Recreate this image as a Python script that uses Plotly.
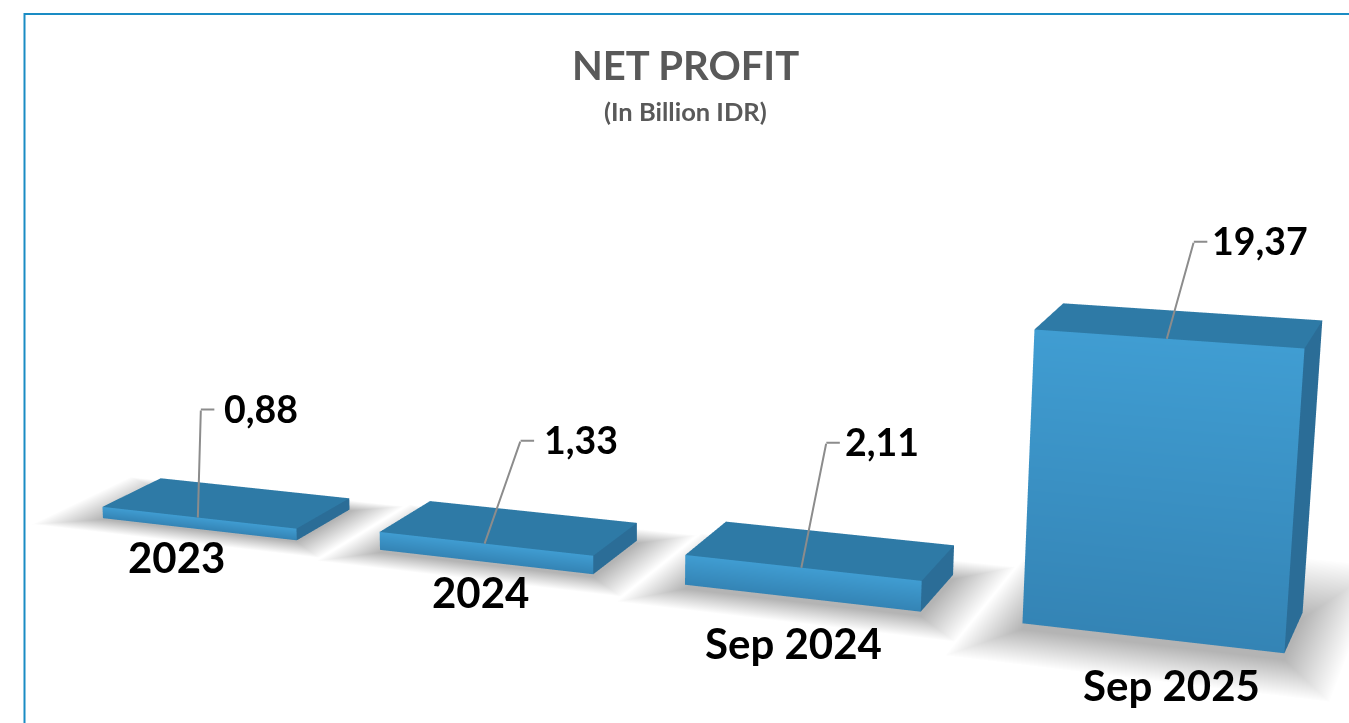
import plotly.graph_objects as go

categories = ["2023", "2024", "Sep 2024", "Sep 2025"]
values = [0.88, 1.33, 2.11, 19.37]
value_labels = ["0,88", "1,33", "2,11", "19,37"]

title_text = "NET PROFIT"
subtitle_text = "(In Billion IDR)"

W = 1349
H = 723
FONT = "Lato"
FRONT_TOP = "#409dd2"
FRONT_BOTTOM = "#3484b5"
TOP_FACE = "#2e7aa6"
SIDE_FACE = "#2b6d97"

# oblique frame of the chart inside the scene, read off the vanishing points
# of the reference (camera space: right, down, forward)
DIR_X = (0.988, 0.0784, -0.136)
DIR_Y = (0.69, -0.43, 0.585)
DIR_Z = (0.00783, -0.9967, -0.0804)
ORIGIN = (0.598, 0.450, 1.5)
EYE = 1.5
SPACING = 0.586
BAR_WIDTH = 0.4157
BAR_DEPTH = 0.112
VALUE_SCALE = 0.02608

# per bar: shadow spread left, right (scene units), front, back (bar depths)
shadow_left = [0.11, 0.085, 0.085, 0.085]
shadow_right = [0.085, 0.085, 0.085, 0.09]
shadow_front = [0.35, 0.4, 0.5, 0.8]
shadow_back = [0.3, 0.4, 0.5, 1.6]

# label offsets in pixels
elbow_dx = [3, 36, 25, 27]
elbow_dy = [108, 103, 125, 97]
label_dx = [24, 57, 42, 43]
cat_dx = [-22, -4, -7, 21]
cat_dy = [-28, -30, -45, -47]


def place(i, across, depth, value):
    # category index, width fraction, depth fraction, value -> scene coordinates
    a = (i - 3) * SPACING + across * BAR_WIDTH
    b = depth * BAR_DEPTH
    c = value * VALUE_SCALE
    q = [ORIGIN[n] + a * DIR_X[n] + b * DIR_Y[n] + c * DIR_Z[n] for n in range(3)]
    return q[0], q[2] - EYE, -q[1]


FLAT = dict(ambient=1, diffuse=0, specular=0, fresnel=0, roughness=1)


def bar_mesh(i, h):
    quads = [
        ([(0, 0, h), (1, 0, h), (1, 0, 0), (0, 0, 0)], [FRONT_TOP, FRONT_TOP, FRONT_BOTTOM, FRONT_BOTTOM]),
        ([(0, 0, h), (1, 0, h), (1, 1, h), (0, 1, h)], [TOP_FACE] * 4),
        ([(1, 0, h), (1, 1, h), (1, 1, 0), (1, 0, 0)], [SIDE_FACE] * 4),
    ]
    xs, ys, zs, cs, ii, jj, kk = [], [], [], [], [], [], []
    for pts, cols in quads:
        n = len(xs)
        for p, c in zip(pts, cols):
            sx, sy, sz = place(i, p[0], p[1], p[2])
            xs.append(sx); ys.append(sy); zs.append(sz); cs.append(c)
        ii += [n, n]
        jj += [n + 1, n + 2]
        kk += [n + 2, n + 3]
    return go.Mesh3d(x=xs, y=ys, z=zs, i=ii, j=jj, k=kk, vertexcolor=cs, lighting=FLAT,
                     hoverinfo="skip", showlegend=False)


def shadow_mesh(i):
    z = -0.1 * (i + 1)
    l = shadow_left[i] / BAR_WIDTH
    r = shadow_right[i] / BAR_WIDTH
    f = shadow_front[i]
    b = shadow_back[i]
    pts = [(0, 0), (1, 0), (1, 1), (0, 1), (-l, -f), (1 + r, -f), (1 + r, 1 + b), (-l, 1 + b)]
    xs, ys, zs = zip(*[place(i, p[0], p[1], z) for p in pts])
    cs = ["#b4b4b4"] * 4 + ["#ffffff"] * 4
    ii, jj, kk = [0, 0], [1, 2], [2, 3]
    for a in range(4):
        c = (a + 1) % 4
        ii += [a, a]
        jj += [c, c + 4]
        kk += [c + 4, a + 4]
    return go.Mesh3d(x=xs, y=ys, z=zs, i=ii, j=jj, k=kk, vertexcolor=cs, lighting=FLAT,
                     hoverinfo="skip", showlegend=False)


fig = go.Figure()
for i in range(len(values)):
    fig.add_trace(shadow_mesh(i))
for i, v in enumerate(values):
    fig.add_trace(bar_mesh(i, v))

notes = []
tiny = dict(family=FONT, size=1, color="#ffffff")
for i, v in enumerate(values):
    sx, sy, sz = place(i, 0.5, 0, v)
    # leader line: rising part, short stub, then the value
    notes.append(dict(x=sx, y=sy, z=sz, text=" ", font=tiny, borderpad=0, showarrow=True, arrowhead=0, arrowwidth=2,
                      arrowcolor="#8c8c8c", ax=elbow_dx[i], ay=-elbow_dy[i], standoff=0))
    notes.append(dict(x=sx, y=sy, z=sz, text=" ", font=tiny, borderpad=0, showarrow=True, arrowhead=0, arrowwidth=2,
                      arrowcolor="#8c8c8c", ax=14, ay=0, xshift=elbow_dx[i], yshift=elbow_dy[i], standoff=0))
    notes.append(dict(x=sx, y=sy, z=sz, text="<b>%s</b>" % value_labels[i], showarrow=False,
                      xanchor="left", yanchor="middle", xshift=label_dx[i], yshift=elbow_dy[i] + 1,
                      font=dict(family=FONT, size=37.5, color="#000000")))
    sx, sy, sz = place(i, 0.5, 0, 0)
    notes.append(dict(x=sx, y=sy, z=sz, text="<b>%s</b>" % categories[i], showarrow=False,
                      xanchor="center", yanchor="middle", xshift=cat_dx[i], yshift=cat_dy[i],
                      font=dict(family=FONT, size=42, color="#000000")))

hidden = dict(visible=False, range=[-2, 2])
fig.update_layout(
    width=W, height=H,
    margin=dict(l=0, r=0, t=0, b=0),
    paper_bgcolor="#ffffff",
    showlegend=False,
    scene=dict(
        domain=dict(x=[0, 1], y=[0, 1]),
        xaxis=hidden, yaxis=hidden, zaxis=hidden,
        aspectmode="manual",
        aspectratio=dict(x=4, y=4, z=4),
        camera=dict(
            eye=dict(x=0, y=-EYE, z=0),
            center=dict(x=0, y=0, z=0),
            up=dict(x=0, y=0, z=1),
            projection=dict(type="perspective"),
        ),
        annotations=notes,
    ),
    annotations=[
        dict(x=685 / W, y=1 - 65 / H, xref="paper", yref="paper", yanchor="middle", xanchor="center",
             text="<b>%s</b>" % title_text, showarrow=False,
             font=dict(family=FONT, size=40, color="#595959")),
        dict(x=685 / W, y=1 - 111 / H, xref="paper", yref="paper", yanchor="middle", xanchor="center",
             text="<b>%s</b>" % subtitle_text, showarrow=False,
             font=dict(family=FONT, size=25.5, color="#595959")),
    ],
    shapes=[
        dict(type="rect", xref="paper", yref="paper", x0=24.5 / W, x1=1.1, y0=-0.1, y1=1 - 14 / H,
             line=dict(color="#1a8cc4", width=2)),
    ],
)

fig.write_html("out.html", config=dict(displayModeBar=False),
               post_script="document.body.style.margin='0';")
